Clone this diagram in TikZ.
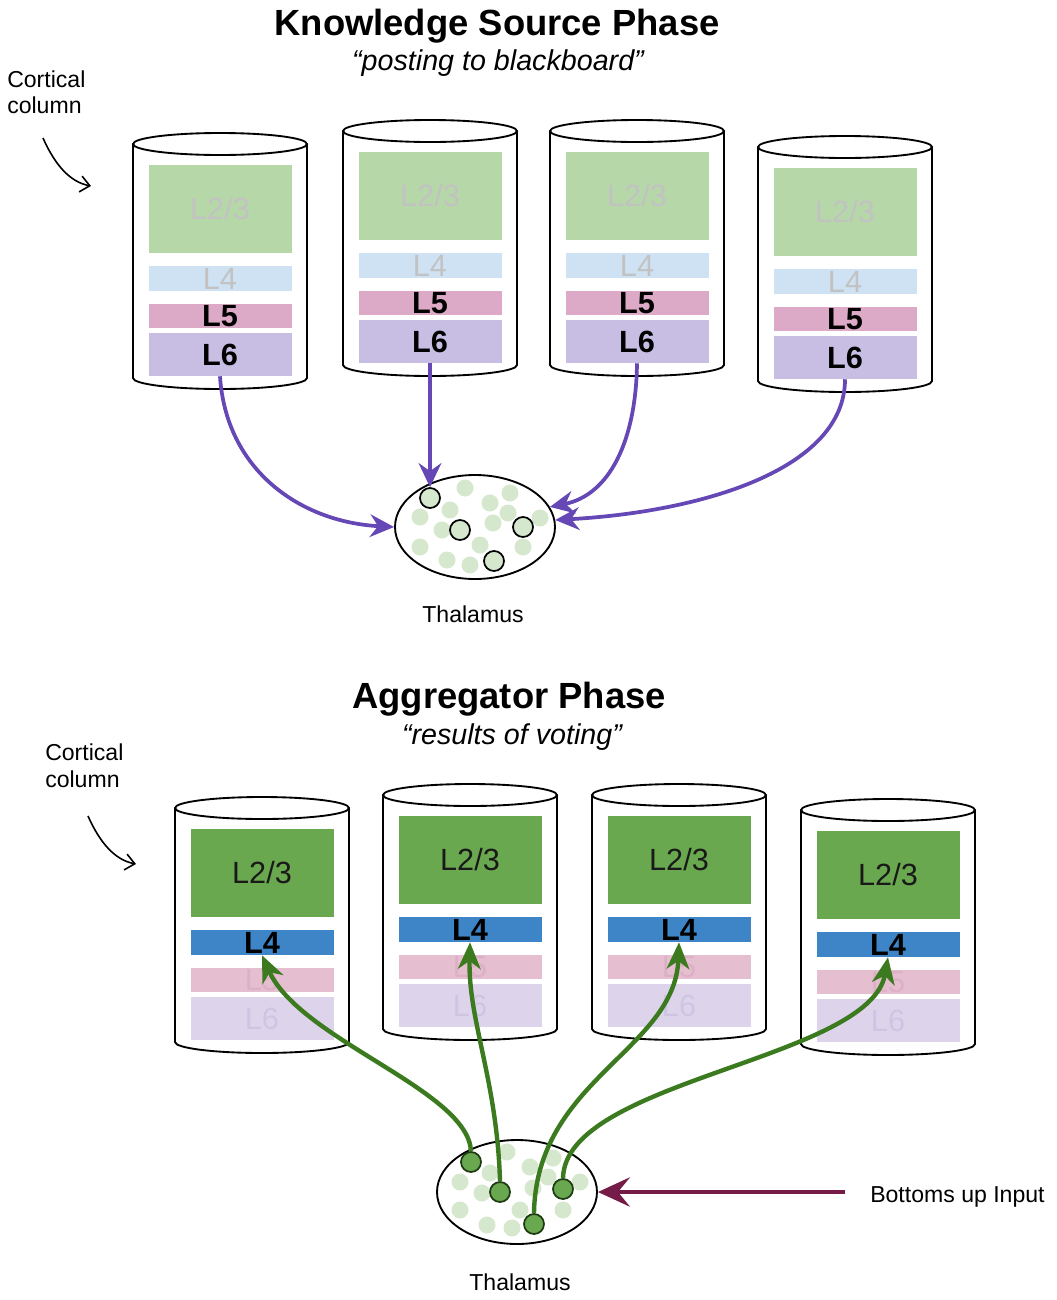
\documentclass[tikz,border=0pt]{standalone}
\usepackage{fontspec}
\setmainfont{Liberation Sans}
\usetikzlibrary{arrows.meta,shapes.geometric}
\definecolor{tgreen}{HTML}{B6D7A8}
\definecolor{tblue}{HTML}{CFE2F3}
\definecolor{tpink}{HTML}{DCAAC6}
\definecolor{tlav}{HTML}{C8BEE4}
\definecolor{bgreen}{HTML}{6AA84F}
\definecolor{bblue}{HTML}{3D85C6}
\definecolor{bpink}{HTML}{E5BED0}
\definecolor{blav}{HTML}{DDD4EC}
\definecolor{fadetxt}{HTML}{C2C2C2}
\definecolor{pinktxt}{HTML}{DDB0C6}
\definecolor{lavtxt}{HTML}{CFC5E3}
\definecolor{dotc}{HTML}{D5E8CD}
\definecolor{purp}{HTML}{6547B5}
\definecolor{garrow}{HTML}{3B7A1E}
\definecolor{gdark}{HTML}{1D3B12}
\definecolor{maroon}{HTML}{741B47}
\newcommand\ttlfont{\fontsize{27.3}{31}\selectfont\bfseries}
\newcommand\subfont{\fontsize{21.5}{25}\selectfont\itshape}
\newcommand\lblfont{\fontsize{17.3}{20}\selectfont}
\newcommand\layfont{\fontsize{23}{26}\selectfont}
\tikzset{
  cylline/.style={draw=black, line width=1.4pt},
  lay/.style={inner sep=0, minimum width=107.25pt, font=\layfont},
  tL23/.style={fill=tgreen, text=fadetxt, minimum height=66pt},
  tL4/.style={fill=tblue, text=fadetxt, minimum height=18.75pt},
  tL5/.style={fill=tpink, text=black, minimum height=18pt, font=\layfont\bfseries},
  tL6/.style={fill=tlav, text=black, minimum height=32.25pt, font=\layfont\bfseries},
  bL23/.style={fill=bgreen, text=black!90, minimum height=66pt},
  bL4/.style={fill=bblue, text=black, minimum height=18.75pt, font=\layfont\bfseries},
  bL5/.style={fill=bpink, text=pinktxt, minimum height=18pt},
  bL6/.style={fill=blav, text=lavtxt, minimum height=32.25pt},
  thal/.style={ellipse, draw=black, line width=1.4pt, fill=white, minimum width=120pt, minimum height=78pt, inner sep=0},
  ocirc/.style={circle, draw=black, line width=1.3pt, fill=dotc, minimum size=15pt, inner sep=0},
  gcirc/.style={circle, draw=gdark, line width=1.3pt, fill=bgreen, minimum size=15pt, inner sep=0},
  lbl/.style={font=\lblfont, inner sep=0},
  parrow/.style={draw=purp, line width=2.8pt, -{Stealth[length=18pt,width=17pt,inset=6pt]}},
  garr/.style={draw=garrow, line width=3.3pt, -{Stealth[length=20pt,width=17pt,inset=6pt]}},
  marr/.style={draw=maroon, line width=3pt, -{Stealth[length=24pt,width=22pt,inset=9pt]}},
  thinarr/.style={draw=black, line width=1.2pt, -{Straight Barb[length=7pt,width=12pt]}},
}
\newcommand\colcyl[4]{%
\begin{scope}[shift={(#3,#4)}]
  \fill[white] (0,0) -- (0,234) arc[start angle=180,end angle=0,x radius=87,y radius=11] -- (174,0) -- cycle;
  \draw[cylline] (0,0) -- (0,234) arc[start angle=180,end angle=0,x radius=87,y radius=11] -- (174,0);
  \draw[cylline,fill=white] (87,0) ellipse[x radius=87,y radius=11];
  \node[lay,#1L23] (#1#2L23) at (87,65) {L2/3};
  \node[lay,#1L4] (#1#2L4) at (87,134.5) {L4};
  \node[lay,#1L5] (#1#2L5) at (87,172) {L5};
  \node[lay,#1L6] (#1#2L6) at (87,210.5) {L6};
\end{scope}}
\begin{document}
\begin{tikzpicture}[x=0.75pt,y=-0.75pt]
\useasboundingbox (0,0) rectangle (1057,1300);
% ---------- Knowledge Source Phase ----------
\node[font=\ttlfont, anchor=base, inner sep=0] (title1) at (497,35) {Knowledge Source Phase};
\node[font=\subfont, anchor=base, inner sep=0] (sub1) at (498,70) {“posting to blackboard”};
\node[lbl, anchor=base west] (cc1a) at (7,87) {Cortical};
\node[lbl, anchor=base west] (cc1b) at (7,113) {column};
\coordinate (cc1s) at (43,138);
\coordinate (cc1e) at (91,186);
\draw[thinarr] (cc1s) .. controls (55,165) and (70,182) .. (cc1e);

\colcyl{t}{1}{133}{144}
\colcyl{t}{2}{343}{131}
\colcyl{t}{3}{550}{131}
\colcyl{t}{4}{758}{147}

\node[thal] (tT) at (475,527) {};
\foreach \p in {(465,488),(510,493),(490,503),(450,510),(508,513),(420,517),(540,518),(442,530),(493,523),(480,545),(420,547),(523,547),(447,560),(470,565)}
  \fill[dotc] \p circle[radius=8.5];
\node[ocirc] (c1) at (430,498) {};
\node[ocirc] (c2) at (460,530) {};
\node[ocirc] (c3) at (523,527) {};
\node[ocirc] (c4) at (494,561) {};
\node[lbl, anchor=base] (thl1) at (473,622) {Thalamus};

\draw[parrow] (t1L6.south) .. controls (226,470) and (300,522) .. (tT.west);
\draw[parrow] (t2L6.south) -- (c1.north);
\draw[parrow] (t3L6.south) .. controls (636,440) and (610,495) .. (tT.15);
\draw[parrow] (t4L6.south) .. controls (845,470) and (700,512) .. (tT.5);

% ---------- Aggregator Phase ----------
\node[font=\ttlfont, anchor=base, inner sep=0] (title2) at (509,708) {Aggregator Phase};
\node[font=\subfont, anchor=base, inner sep=0] (sub2) at (512,744) {“results of voting”};
\node[lbl, anchor=base west] (cc2a) at (45,760) {Cortical};
\node[lbl, anchor=base west] (cc2b) at (45,787) {column};
\coordinate (cc2s) at (88,816);
\coordinate (cc2e) at (136,864);
\draw[thinarr] (cc2s) .. controls (100,843) and (115,860) .. (cc2e);

\colcyl{b}{1}{175}{808}
\colcyl{b}{2}{383}{795}
\colcyl{b}{3}{592}{795}
\colcyl{b}{4}{801}{810}

\node[thal] (bT) at (517,1192) {};
\foreach \p in {(507,1152),(530,1167),(553,1158),(490,1173),(460,1182),(482,1193),(548,1177),(580,1182),(533,1188),(520,1210),(460,1210),(563,1210),(487,1225),(512,1228)}
  \fill[dotc] \p circle[radius=8.5];
\node[gcirc] (g1) at (471,1162) {};
\node[gcirc] (g2) at (500,1192) {};
\node[gcirc] (g3) at (534,1224) {};
\node[gcirc] (g4) at (563,1189) {};
\node[lbl, anchor=base] (thl2) at (520,1290) {Thalamus};

\draw[garr] (g1.north) .. controls (468,1090) and (300,1040) .. (b1L4.south);
\draw[garr] (g2.north) .. controls (497,1080) and (468,1020) .. (b2L4.south);
\draw[garr] (g3.north) .. controls (536,1080) and (675,1050) .. (b3L4.south);
\draw[garr] (g4.north) .. controls (565,1080) and (870,1060) .. (b4L4.south);

\coordinate (bIn) at (845,1192);
\draw[marr] (bIn) -- (bT.east);
\node[lbl, anchor=base west] (bui) at (870,1202) {Bottoms up Input};
\end{tikzpicture}
\end{document}
